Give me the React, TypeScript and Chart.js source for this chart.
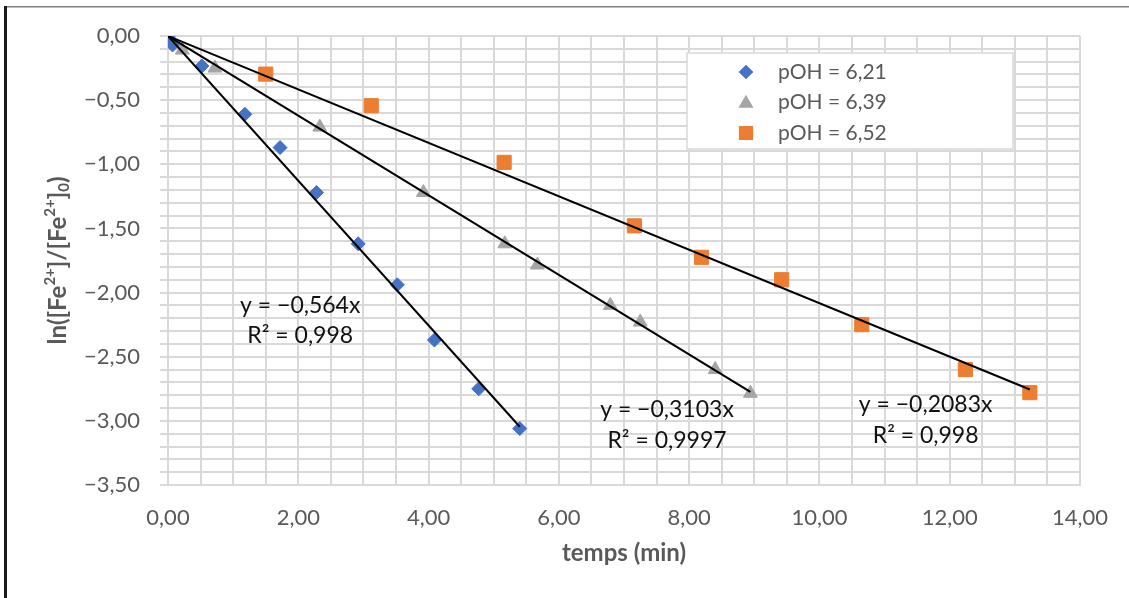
import React, { useEffect, useRef } from 'react';
import { Chart, registerables } from 'chart.js';
import { drawPoint } from 'chart.js/helpers';

Chart.register(...registerables);

// ---- data ----
const SERIES_NAMES = ['pOH = 6,21', 'pOH = 6,39', 'pOH = 6,52'];
const T_621 = [0, 0.07, 0.52, 1.18, 1.72, 2.28, 2.92, 3.52, 4.09, 4.77, 5.40];
const Y_621 = [0, -0.07, -0.234, -0.61, -0.87, -1.22, -1.62, -1.94, -2.37, -2.75, -3.06];
const T_639 = [0, 0.22, 0.72, 2.33, 3.92, 5.17, 5.67, 6.79, 7.25, 8.40, 8.94];
const Y_639 = [0, -0.11, -0.25, -0.71, -1.22, -1.62, -1.785, -2.10, -2.23, -2.60, -2.785];
const T_652 = [0, 1.50, 3.12, 5.16, 7.16, 8.19, 9.42, 10.65, 12.24, 13.23];
const Y_652 = [0, -0.297, -0.543, -0.985, -1.48, -1.725, -1.90, -2.25, -2.60, -2.78];
const TREND_SLOPES = [-0.564, -0.3103, -0.2083];
const TREND_EQUATIONS = ['y = −0,564x', 'y = −0,3103x', 'y = −0,2083x'];
const TREND_R2 = ['R² = 0,998', 'R² = 0,9997', 'R² = 0,998'];
const TREND_LABEL_X = [2.03, 7.66, 11.63];
const TREND_LABEL_Y = [-2.10, -2.915, -2.876];
const X_MIN = 0, X_MAX = 14, X_STEP = 0.5, X_LABEL_EVERY = 2;
const Y_MIN = -3.5, Y_MAX = 0, Y_STEP = 0.1, Y_LABEL_EVERY = 0.5;
const X_TITLE = 'temps (min)';

// ---- styles ----
const COLORS = ['#4472C4', '#A5A5A5', '#ED7D31'];
const STYLES = ['rectRot', 'triangle', 'rect'];
const RADII = [7, 8, 10];
const FONT = 'Lato';
const TEXT_GRAY = '#595959';
const GRID = '#d9d9d9';

const fmt = (v: number) => v.toFixed(2).replace('.', ',').replace('-', '−');
const isMult = (v: number, m: number) => Math.abs(v / m - Math.round(v / m)) < 1e-6;

const decor = {
  id: 'decor',
  beforeDraw(chart: any) {
    const { ctx, width, height } = chart;
    ctx.save();
    ctx.fillStyle = '#fff';
    ctx.fillRect(0, 0, width, height);
    ctx.fillStyle = '#808080';
    ctx.fillRect(4, 6, width - 4, 1.5);
    ctx.fillStyle = '#1a1a1a';
    ctx.fillRect(4, 6, 3, height - 6);
    ctx.restore();
  },
  afterDatasetsDraw(chart: any) {
    const { ctx, chartArea: ca, scales } = chart;
    ctx.save();
    // trendline labels
    ctx.fillStyle = '#111';
    ctx.font = `23px ${FONT}`;
    ctx.textAlign = 'center';
    ctx.textBaseline = 'middle';
    TREND_EQUATIONS.forEach((eq, i) => {
      const px = scales.x.getPixelForValue(TREND_LABEL_X[i]);
      const py = scales.y.getPixelForValue(TREND_LABEL_Y[i]);
      ctx.fillText(eq, px, py);
      ctx.fillText(TREND_R2[i], px, py + 30.5);
    });
    // legend
    const lx = ca.left + 519, ly = ca.top + 17, lw = 326, lh = 96;
    ctx.fillStyle = '#fff';
    ctx.fillRect(lx, ly, lw, lh);
    ctx.strokeStyle = GRID;
    ctx.lineWidth = 1.5;
    ctx.strokeRect(lx, ly, lw, lh);
    ctx.font = `21px ${FONT}`;
    ctx.textAlign = 'left';
    SERIES_NAMES.forEach((name, i) => {
      const ry = ca.top + 36 + i * 30.5;
      ctx.fillStyle = COLORS[i];
      ctx.strokeStyle = COLORS[i];
      drawPoint(ctx, { pointStyle: STYLES[i], radius: RADII[i] * 0.9, rotation: 0, borderWidth: 1 }, ca.left + 578, ry + (i === 1 ? 1 : 0));
      ctx.fillStyle = TEXT_GRAY;
      ctx.fillText(name, ca.left + 610, ry);
    });
    ctx.restore();
  },
  afterDraw(chart: any) {
    const { ctx, chartArea: ca } = chart;
    ctx.save();
    ctx.fillStyle = TEXT_GRAY;
    ctx.textBaseline = 'middle';
    // x title
    ctx.font = `bold 24px ${FONT}`;
    ctx.textAlign = 'center';
    ctx.fillText(X_TITLE, (ca.left + ca.right) / 2, ca.bottom + 68);
    // y title with super/subscripts
    const segs: [string, number][] = [
      ['ln([Fe', 0], ['2+', 1], [']/[Fe', 0], ['2+', 1], [']', 0], ['0', -1], [')', 0],
    ];
    const size = 24, small = 15;
    const widthOf = (s: string, k: number) => {
      ctx.font = `bold ${k === 0 ? size : small}px ${FONT}`;
      return ctx.measureText(s).width;
    };
    const total = segs.reduce((a, [s, k]) => a + widthOf(s, k), 0);
    ctx.translate(ca.left - 110, (ca.top + ca.bottom) / 2);
    ctx.rotate(-Math.PI / 2);
    ctx.textAlign = 'left';
    let x = -total / 2;
    segs.forEach(([s, k]) => {
      const w = widthOf(s, k);
      ctx.font = `bold ${k === 0 ? size : small}px ${FONT}`;
      ctx.fillText(s, x, k === 1 ? -8 : k === -1 ? 6 : 0);
      x += w;
    });
    ctx.restore();
  },
};

export default function App() {
  const ref = useRef<HTMLCanvasElement>(null);
  useEffect(() => {
    if (!ref.current) return;
    const pts = (xs: number[], ys: number[]) => xs.map((x, i) => ({ x, y: ys[i] }));
    const series = [pts(T_621, Y_621), pts(T_639, Y_639), pts(T_652, Y_652)];
    const trends = series.map((s, i) => {
      const tmax = Math.max(...s.map((p) => p.x));
      return [{ x: 0, y: 0 }, { x: tmax, y: TREND_SLOPES[i] * tmax }];
    });
    const chart = new Chart(ref.current, {
      type: 'scatter',
      data: {
        datasets: [
          ...trends.map((d) => ({
            type: 'line' as const,
            data: d,
            borderColor: '#000',
            borderWidth: 2,
            pointRadius: 0,
            showLine: true,
            fill: false,
            order: 0,
          })),
          ...series.map((d, i) => ({
            label: SERIES_NAMES[i],
            data: d,
            pointStyle: STYLES[i] as any,
            pointRadius: RADII[i],
            backgroundColor: COLORS[i],
            borderColor: COLORS[i],
            pointBorderWidth: 1,
            order: 1,
          })),
        ],
      },
      options: {
        responsive: false,
        animation: false,
        devicePixelRatio: 1,
        layout: { padding: { top: 36, right: 49, left: 0, bottom: 0 } },
        plugins: { legend: { display: false }, tooltip: { enabled: false } },
        scales: {
          x: {
            type: 'linear',
            min: X_MIN,
            max: X_MAX,
            afterFit: (s: any) => { s.height = 113; },
            grid: { color: GRID, lineWidth: 2, drawTicks: false },
            border: { color: GRID, width: 2 },
            ticks: {
              stepSize: X_STEP,
              autoSkip: false,
              maxRotation: 0,
              minRotation: 0,
              padding: 20,
              color: TEXT_GRAY,
              font: { family: FONT, size: 22 },
              callback: (v: any) => (isMult(Number(v), X_LABEL_EVERY) ? fmt(Number(v)) : ''),
            },
          },
          y: {
            type: 'linear',
            min: Y_MIN,
            max: Y_MAX,
            afterFit: (s: any) => { s.width = 168; },
            grid: { color: GRID, lineWidth: 2, drawTicks: true, tickLength: 8 },
            border: { color: GRID, width: 2 },
            ticks: {
              stepSize: Y_STEP,
              autoSkip: false,
              padding: 20,
              color: TEXT_GRAY,
              font: { family: FONT, size: 22 },
              callback: (v: any) => (isMult(Number(v), Y_LABEL_EVERY) ? fmt(Number(v)) : ''),
            },
          },
        },
      },
      plugins: [decor],
    });
    return () => chart.destroy();
  }, []);
  return (
    <div style={{ position: 'absolute', left: 0, top: 0, width: 1129, height: 598 }}>
      <canvas ref={ref} width={1129} height={598} style={{ display: 'block' }} />
    </div>
  );
}
